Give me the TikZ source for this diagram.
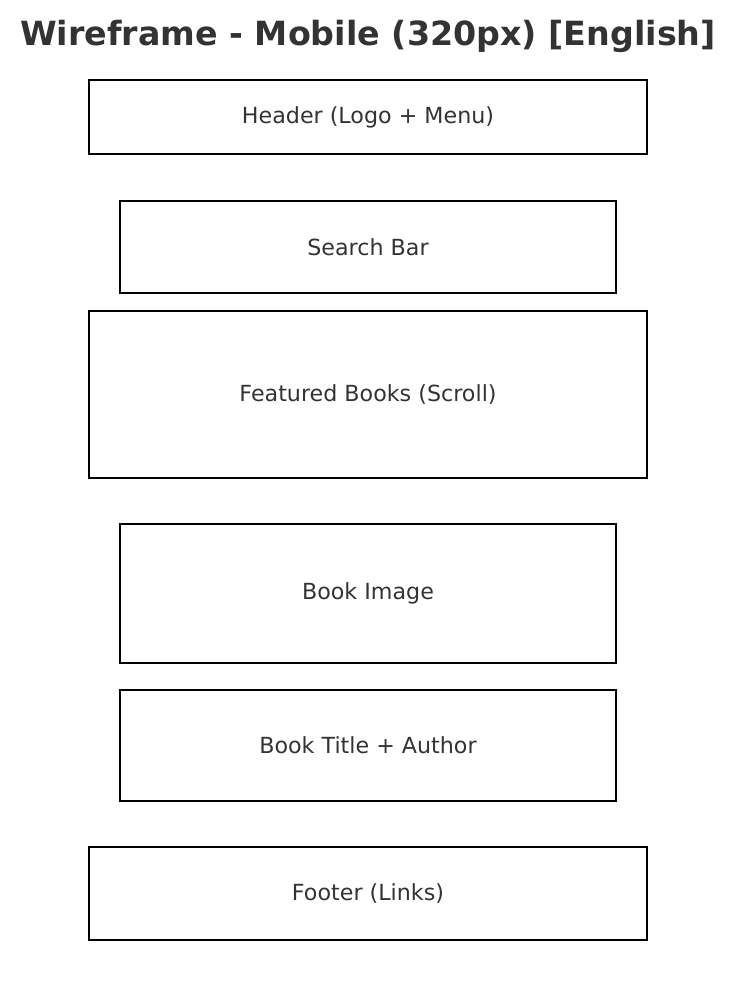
\documentclass[tikz,border=0pt]{standalone}
\usepackage{fontspec}
\setmainfont{DejaVu Sans}
\usetikzlibrary{positioning}
\definecolor{textgray}{HTML}{333333}
\tikzstyle{block} = [draw=black, line width=2.4pt, text=textgray, text centered, align=center, inner sep=0pt, font=\fontsize{22.2}{26}\selectfont]

\begin{document}
\begin{tikzpicture}[x=1pt, y=-1pt]
    \useasboundingbox (0,0) rectangle (736,1006);
    \node[text=textgray, font=\fontsize{33.3}{38}\selectfont\bfseries] (title) at (368,36) {Wireframe - Mobile (320px) [English]};

    \node[block, minimum width=558pt, minimum height=74pt] (header) at (368,117) {Header (Logo + Menu)};
    \node[block, minimum width=496pt, minimum height=92pt] (search) at (368,247) {Search Bar};
    \node[block, minimum width=558pt, minimum height=167pt] (featured) at (368,394.5) {Featured Books (Scroll)};
    \node[block, minimum width=496pt, minimum height=139pt] (bookimg) at (368,593.5) {Book Image};
    \node[block, minimum width=496pt, minimum height=111pt] (booktitle) at (368,745.5) {Book Title + Author};
    \node[block, minimum width=558pt, minimum height=93pt] (footer) at (368,893.5) {Footer (Links)};
\end{tikzpicture}
\end{document}
